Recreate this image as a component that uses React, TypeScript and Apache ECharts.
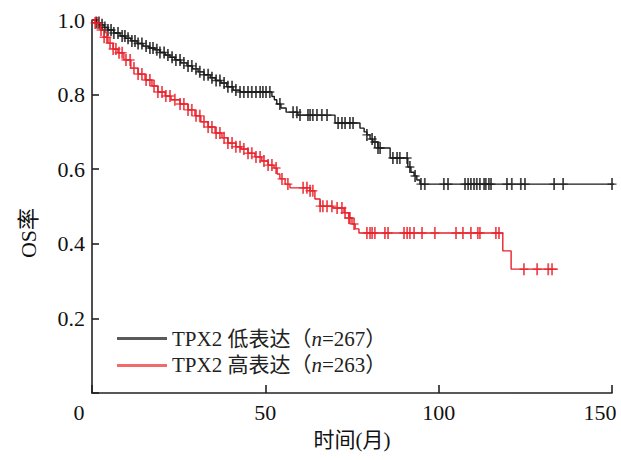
import React, { useEffect, useRef } from "react";
import * as echarts from "echarts";

// Kaplan–Meier step points (months, OS rate)
const lowTimes = [0, 1.2, 2.3, 3.5, 4.6, 6.3, 8.1, 9.6, 11.2, 13.0, 14.7, 16.4, 18.2, 19.6, 21.1, 22.5, 23.9, 25.6, 27.4, 29.0, 30.6, 32.3, 34.1, 35.6, 37.2, 38.9, 40.7, 42.7, 51.9, 52.6, 53.3, 54.5, 56.0, 59.4, 70.1, 77.3, 78.5, 79.3, 80.2, 81.0, 82.5, 86.0, 91.1, 92.0, 92.9, 93.7, 94.6, 152];
const lowSurv = [1.0, 0.993, 0.987, 0.98, 0.973, 0.965, 0.957, 0.951, 0.944, 0.937, 0.93, 0.925, 0.92, 0.913, 0.906, 0.9, 0.893, 0.885, 0.877, 0.869, 0.861, 0.853, 0.845, 0.838, 0.831, 0.821, 0.812, 0.807, 0.795, 0.786, 0.775, 0.764, 0.753, 0.745, 0.724, 0.71, 0.7, 0.692, 0.681, 0.673, 0.657, 0.63, 0.606, 0.592, 0.582, 0.571, 0.56, 0.56];

const highTimes = [0, 0.9, 2.3, 3.5, 4.6, 6.1, 7.5, 9.2, 11.2, 13.3, 15.3, 17.3, 19.0, 21.1, 22.8, 25.4, 27.7, 29.7, 31.4, 33.5, 35.5, 37.5, 39.2, 41.5, 43.0, 45.0, 47.0, 49.0, 50.8, 52.5, 53.4, 54.2, 55.7, 57.1, 62.9, 64.3, 65.8, 69.5, 72.7, 74.1, 75.0, 75.9, 77.0, 118.5, 120.9, 134.4];
const highSurv = [1.0, 0.992, 0.973, 0.954, 0.938, 0.922, 0.912, 0.893, 0.871, 0.855, 0.839, 0.823, 0.807, 0.796, 0.786, 0.775, 0.759, 0.743, 0.727, 0.713, 0.697, 0.684, 0.67, 0.66, 0.654, 0.643, 0.633, 0.622, 0.611, 0.603, 0.587, 0.574, 0.56, 0.55, 0.542, 0.52, 0.501, 0.496, 0.483, 0.469, 0.453, 0.44, 0.429, 0.381, 0.332, 0.332];

// censored observation times (months)
const lowCensor = [1.2, 2.0, 2.9, 3.7, 4.6, 5.5, 6.3, 7.5, 8.7, 9.5, 10.4, 11.5, 12.4, 13.3, 14.4, 15.6, 16.7, 17.6, 18.7, 19.6, 20.8, 21.9, 23.1, 24.2, 25.4, 26.5, 27.7, 28.8, 30.0, 31.1, 32.3, 33.5, 34.6, 35.8, 36.9, 38.1, 39.2, 40.4, 41.5, 42.7, 43.8, 45.0, 46.1, 47.3, 48.5, 49.3, 50.2, 51.3, 54.2, 58.0, 59.1, 60.0, 62.3, 62.9, 63.7, 64.9, 66.3, 67.8, 71.0, 72.1, 73.0, 74.4, 75.3, 79.3, 80.8, 81.6, 82.5, 83.1, 86.8, 88.0, 88.8, 90.9, 91.7, 93.2, 94.9, 96.0, 101.5, 102.7, 107.6, 108.5, 109.3, 110.2, 111.0, 111.9, 113.1, 113.6, 114.5, 115.1, 119.7, 121.1, 123.7, 124.9, 133.3, 135.9, 150];
const highCensor = [0.9, 1.7, 2.6, 3.5, 4.3, 5.2, 6.1, 6.9, 7.8, 8.7, 9.8, 11.0, 12.1, 13.3, 14.4, 15.6, 16.7, 17.9, 19.0, 20.2, 21.3, 22.5, 23.9, 25.4, 26.5, 27.7, 28.8, 30.0, 31.1, 32.3, 33.5, 34.6, 35.8, 36.9, 38.1, 39.2, 40.4, 41.5, 42.7, 43.8, 45.0, 46.1, 47.3, 48.5, 49.6, 50.8, 51.9, 53.1, 54.8, 56.5, 60.9, 62.0, 62.9, 63.7, 65.8, 66.6, 67.8, 69.2, 70.7, 72.1, 73.0, 74.1, 74.4, 75.6, 79.3, 80.2, 80.8, 81.6, 84.5, 85.4, 90.0, 90.9, 91.7, 92.9, 95.2, 98.9, 105.0, 107.0, 109.3, 111.3, 111.9, 116.5, 117.4, 124.6, 128.4, 131.6, 132.7];

const xTicks = [0, 50, 100, 150];
const yTicks = [0.2, 0.4, 0.6, 0.8, 1.0];

const lowName = "TPX2低表达(n=267)";
const highName = "TPX2高表达(n=263)";

const SERIF = '"Liberation Serif", "Noto Sans CJK SC", serif';
const PLUS = "path://M0.4,0H0.6V0.44H1V0.56H0.6V1H0.4V0.56H0V0.44H0.4Z";

function survAt(times: number[], surv: number[], t: number) {
  let s = surv[0];
  for (let i = 0; i < times.length; i++) if (times[i] <= t) s = surv[i];
  return s;
}

export default function App() {
  const ref = useRef<HTMLDivElement>(null);
  useEffect(() => {
    document.body.style.margin = "0";
    const chart = echarts.init(ref.current!, undefined, { renderer: "svg" });
    const lowLine = lowTimes.map((t, i) => [t, lowSurv[i]]);
    const highLine = highTimes.map((t, i) => [t, highSurv[i]]);
    const lowMarks = lowCensor.map((t) => [t, survAt(lowTimes, lowSurv, t)]);
    const highMarks = highCensor.map((t) => [t, survAt(highTimes, highSurv, t)]);
    const black = "#1a1a1a";
    const red = "#e8222b";
    chart.setOption({
      animation: false,
      grid: { left: 92, right: 9, top: 20, bottom: 67 },
      xAxis: {
        type: "value",
        min: 0,
        max: 150,
        interval: 50,
        name: "时间(月)",
        nameLocation: "middle",
        nameGap: 36,
        nameTextStyle: { fontFamily: SERIF, fontSize: 21, color: "#111" },
        axisLine: { lineStyle: { color: "#222", width: 1.6 } },
        axisTick: { inside: true, length: 8, lineStyle: { color: "#222", width: 1.6 } },
        splitLine: { show: false },
        axisLabel: {
          margin: 8,
          fontFamily: SERIF,
          fontSize: 22,
          color: "#111",
          formatter: (v: number) =>
            v === xTicks[0] ? "{l|0}" : v === xTicks[3] ? "{r|150}" : String(v),
          rich: {
            l: { fontFamily: SERIF, fontSize: 22, color: "#111", padding: [0, 26, 0, 0] },
            r: { fontFamily: SERIF, fontSize: 22, color: "#111", padding: [0, 24, 0, 0] },
          },
        },
      },
      yAxis: {
        type: "value",
        min: 0,
        max: 1,
        interval: 0.2,
        axisLine: { show: true, lineStyle: { color: "#222", width: 1.6 } },
        axisTick: { show: true, inside: true, length: 7, lineStyle: { color: "#222", width: 1.6 } },
        splitLine: { show: false },
        axisLabel: {
          margin: 7,
          fontFamily: SERIF,
          fontSize: 22,
          color: "#111",
          formatter: (v: number) => (yTicks.some((y) => Math.abs(y - v) < 1e-6) ? v.toFixed(1) : ""),
        },
      },
      legend: {
        orient: "vertical",
        left: 117,
        top: 328,
        padding: 0,
        itemWidth: 50,
        itemHeight: 3,
        itemGap: 6,
        icon: "rect",
        data: [
          { name: lowName, itemStyle: { color: "#5a5a5a" } },
          { name: highName, itemStyle: { color: "#f26b6b" } },
        ],
        formatter: (name: string) =>
          name === lowName
            ? "{a|TPX2 低表达（}{i|n}{a|=267）}"
            : "{a|TPX2 高表达（}{i|n}{a|=263）}",
        textStyle: {
          rich: {
            a: { fontFamily: SERIF, fontSize: 21, color: "#222" },
            i: { fontFamily: SERIF, fontSize: 21, color: "#222", fontStyle: "italic" },
          },
        },
      },
      graphic: [
        {
          type: "text",
          x: 28,
          y: 233,
          rotation: Math.PI / 2,
          style: {
            text: "OS率",
            font: `22px ${SERIF}`,
            fill: "#111",
            textAlign: "center",
            textVerticalAlign: "middle",
          },
        },
      ],
      series: [
        {
          name: lowName,
          type: "line",
          step: "end",
          data: lowLine,
          showSymbol: false,
          clip: false,
          color: black,
          lineStyle: { color: black, width: 1.4 },
        },
        {
          name: highName,
          type: "line",
          step: "end",
          data: highLine,
          showSymbol: false,
          clip: false,
          color: red,
          lineStyle: { color: red, width: 1.4 },
        },
        {
          name: lowName + "删失",
          type: "scatter",
          data: lowMarks,
          symbol: PLUS,
          symbolSize: [9, 12],
          clip: false,
          itemStyle: { color: black },
          z: 3,
        },
        {
          name: highName + "删失",
          type: "scatter",
          data: highMarks,
          symbol: PLUS,
          symbolSize: [9, 12],
          clip: false,
          itemStyle: { color: red },
          z: 3,
        },
      ],
    });
    return () => chart.dispose();
  }, []);
  return <div ref={ref} style={{ width: 621, height: 460 }} />;
}
